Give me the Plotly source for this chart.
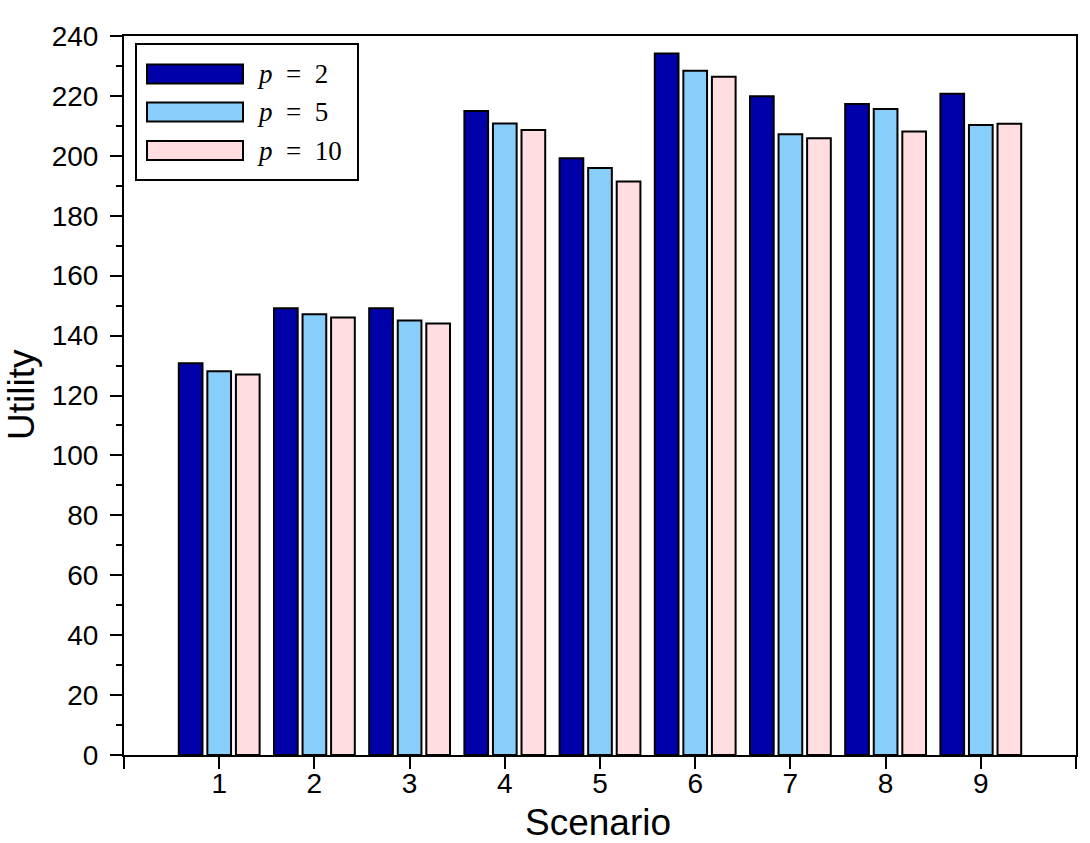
import plotly.graph_objects as go

scenarios = [1, 2, 3, 4, 5, 6, 7, 8, 9]
p2 = [130.8, 149.1, 149.1, 215.0, 199.2, 234.2, 219.9, 217.3, 220.7]
p5 = [128.1, 147.1, 145.0, 210.8, 195.9, 228.4, 207.2, 215.6, 210.3]
p10 = [127.0, 146.0, 144.0, 208.6, 191.4, 226.4, 205.9, 208.1, 210.7]
series_names = ["<i>p</i>&nbsp;&nbsp;=&nbsp;&nbsp;2", "<i>p</i>&nbsp;&nbsp;=&nbsp;&nbsp;5",
                "<i>p</i>&nbsp;&nbsp;=&nbsp;&nbsp;10"]
colors = ["#0000AA", "#87CEFA", "#FFDDE0"]
y_ticks = [0, 20, 40, 60, 80, 100, 120, 140, 160, 180, 200, 220, 240]

W, H = 1090, 843
ML, MR, MT, MB = 124, 14, 36, 88
PW, PH = W - ML - MR, H - MT - MB

fig = go.Figure()
for vals, name, col in zip([p2, p5, p10], series_names, colors):
    fig.add_trace(go.Bar(
        x=scenarios, y=vals, name=name,
        marker=dict(color=col, line=dict(color="black", width=2)),
        showlegend=False,
    ))

def px2paper_x(px):
    return (px - ML) / PW

def px2paper_y(py):
    return (H - MB - py) / PH

shapes = []
annotations = []
# legend box
shapes.append(dict(type="rect", xref="paper", yref="paper",
                   x0=px2paper_x(136), x1=px2paper_x(358),
                   y0=px2paper_y(180), y1=px2paper_y(44),
                   line=dict(color="black", width=2), fillcolor="white", layer="above"))
legend_y = [74, 112, 150.5]
for cy, name, col in zip(legend_y, series_names, colors):
    shapes.append(dict(type="rect", xref="paper", yref="paper",
                       x0=px2paper_x(147), x1=px2paper_x(243),
                       y0=px2paper_y(cy + 9.5), y1=px2paper_y(cy - 9.5),
                       line=dict(color="black", width=2), fillcolor=col, layer="above"))
    annotations.append(dict(xref="paper", yref="paper", x=px2paper_x(255), y=px2paper_y(cy),
                            text=name, showarrow=False, xanchor="left", yanchor="middle",
                            font=dict(family="Liberation Serif", size=27, color="black")))

# axis titles
annotations.append(dict(xref="paper", yref="paper", x=px2paper_x(598), y=px2paper_y(822),
                        text="Scenario", showarrow=False, xanchor="center", yanchor="middle",
                        font=dict(family="Liberation Sans", size=37, color="black")))
annotations.append(dict(xref="paper", yref="paper", x=px2paper_x(21), y=px2paper_y(395),
                        text="Utility", showarrow=False, xanchor="center", yanchor="middle",
                        textangle=-90,
                        font=dict(family="Liberation Sans", size=37, color="black")))

fig.update_layout(
    width=W, height=H,
    margin=dict(l=ML, r=MR, t=MT, b=MB, autoexpand=False),
    paper_bgcolor="white", plot_bgcolor="white",
    barmode="group", bargap=0.1, bargroupgap=0.17,
    shapes=shapes, annotations=annotations,
    font=dict(family="Liberation Sans", color="black"),
    xaxis=dict(
        range=[0, 10], tickmode="array", tickvals=list(range(0, 11)),
        ticktext=[""] + [str(s) for s in scenarios] + [""],
        ticks="outside", ticklen=12, tickwidth=2, tickcolor="black",
        showline=True, linecolor="black", linewidth=2, mirror=True,
        showgrid=False, zeroline=False, automargin=False,
        tickfont=dict(size=28), ticklabelstandoff=-10,
    ),
    yaxis=dict(
        range=[0, 240], tickmode="array", tickvals=y_ticks,
        ticks="outside", ticklen=12, tickwidth=2, tickcolor="black",
        minor=dict(dtick=10, ticks="outside", ticklen=6, tickwidth=2, tickcolor="black"),
        showline=True, linecolor="black", linewidth=2, mirror=True,
        showgrid=False, zeroline=False, automargin=False,
        tickfont=dict(size=28), ticklabelstandoff=6,
    ),
)

fig.write_html("out.html")
